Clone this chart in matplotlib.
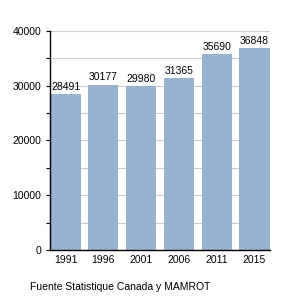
import matplotlib
matplotlib.use("Agg")
from matplotlib import pyplot as plt
from matplotlib.ticker import MultipleLocator

years = ["1991", "1996", "2001", "2006", "2011", "2015"]
values = [28491, 30177, 29980, 31365, 35690, 36848]

plt.rcParams['font.family'] = ['Liberation Sans', 'DejaVu Sans']

fig = plt.figure(figsize=(3, 3), dpi=100)
ax = fig.add_axes([0.167, 0.167, 0.733, 0.73])

x = range(len(years))
bars = ax.bar(x, values, width=0.8, color="#98b2cf", zorder=2)
for i, v in enumerate(values):
    ax.text(i, v + 400, str(v), ha="center", va="bottom", fontsize=7.5, zorder=3)

ax.set_xlim(-0.41, 5.41)
ax.set_ylim(0, 40000)
ax.set_xticks(list(x))
ax.set_xticklabels(years, fontsize=7.5)
ax.yaxis.set_major_locator(MultipleLocator(10000))
ax.yaxis.set_minor_locator(MultipleLocator(5000))
ax.tick_params(axis="y", labelsize=7.5, length=3, width=0.8)
ax.tick_params(axis="y", which="minor", length=3, width=0.8)
ax.tick_params(axis="x", length=0, pad=4)
ax.grid(axis="y", which="both", color="#cccccc", linewidth=0.8, zorder=0)

for s in ["top", "right"]:
    ax.spines[s].set_visible(False)
ax.spines["left"].set_linewidth(1)
ax.spines["bottom"].set_linewidth(1)

fig.text(0.1, 0.035, "Fuente Statistique Canada y MAMROT", fontsize=7.5)

fig.savefig("out.png", dpi=100)
